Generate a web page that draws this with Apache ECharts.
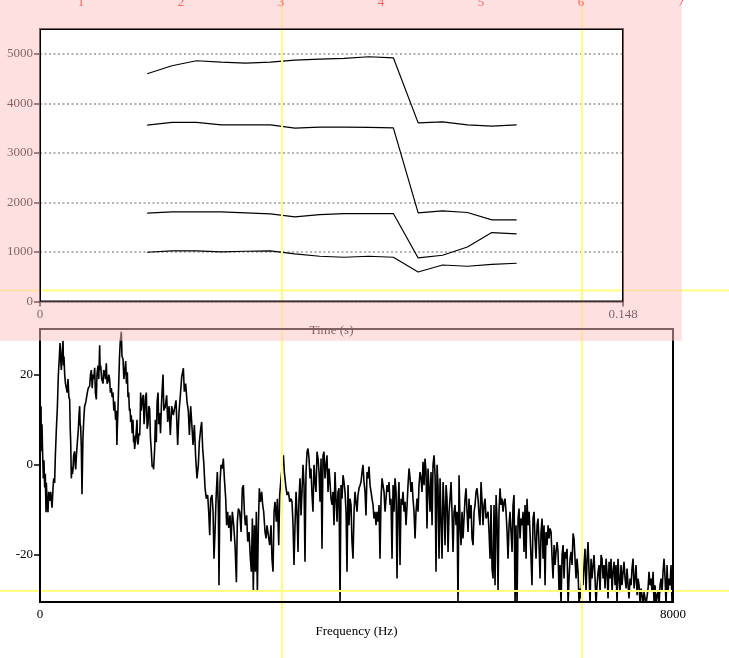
<!DOCTYPE html>
<html><head><meta charset="utf-8">
<script src="https://cdn.jsdelivr.net/npm/echarts@6/dist/echarts.min.js"></script>
<style>html,body{margin:0;padding:0;background:#fff}#c{width:729px;height:658px}</style>
</head><body><div id="c"></div>
<script>
// ---- data ----
const formantTimes = [0.0272,0.0335,0.0397,0.0460,0.0522,0.0585,0.0647,0.0710,0.0772,0.0835,0.0897,0.0960,0.1022,0.1085,0.1147,0.1210];
const formant1 = [994,1020,1020,1000,1014,1020,960,913,893,913,893,596,737,711,751,772];
const formant2 = [1782,1808,1808,1808,1788,1768,1707,1755,1775,1775,1775,879,933,1101,1392,1364];
const formant3 = [3560,3614,3614,3566,3566,3566,3499,3519,3519,3513,3503,1788,1828,1796,1646,1646];
const formant4 = [4596,4758,4859,4832,4812,4832,4873,4893,4907,4940,4919,3606,3626,3566,3539,3566];

// spectrum [Hz, dB], 0 - 3172 Hz
const spectrumLow = [[0,14],[8,4],[13,13],[17,3],[25,9],[34,2],[42,-3],[50,1],[59,-5],[67,-2],[76,-10.5],[80,-4],[92,-9],[101,-10.5],[110,-6],[122,-8],[135,-6],[152,-9.5],[165,-5],[173,-3],[185,-4],[194,2],[207,8],[219,12.5],[232,20],[245,24],[253,27],[262,23],[270,21],[280,25],[291,27.5],[297,22],[303,24],[312,20],[322,18],[333,17],[343,16],[354,19],[365,15],[375,14.5],[382,8],[388,5],[396,-3],[405,-0.5],[410,-2],[417,-1],[425,2],[438,3],[445,0],[451,-1],[460,2],[472,5],[485,8],[493,11],[501,13],[507,9],[514,8.5],[522,4],[531,-6.5],[537,0],[543,6],[553,10],[564,13],[580,14],[598,16],[610,17],[628,17.5],[638,20],[649,21],[660,17],[670,20],[680,19],[691,21.5],[700,16],[712,14.5],[720,20],[733,22],[743,19],[754,26.5],[760,21],[767,22],[780,19],[796,18],[805,21],[817,20.5],[827,19],[838,22.5],[848,18],[859,18.5],[870,20],[880,19],[890,16],[902,17],[912,15],[923,16],[933,12],[944,14],[955,10],[965,12],[972,4.4],[977,8],[985,12],[994,17.5],[1005,24],[1015,27.5],[1028,29.5],[1036,24],[1049,23.5],[1060,19],[1070,20.5],[1083,23],[1093,18],[1104,20.5],[1112,15],[1121,16],[1130,12],[1138,12.5],[1146,9.5],[1154,11],[1165,7],[1175,10],[1183,5],[1188,6.5],[1196,3.5],[1205,3.5],[1215,7],[1226,10],[1232,5],[1239,4.5],[1250,7],[1260,6.5],[1266,10],[1272,16],[1280,12],[1289,12],[1298,15],[1306,15.5],[1315,9],[1323,11],[1334,15],[1344,16],[1354,8],[1365,9],[1375,13],[1386,12.5],[1396,6],[1407,3],[1418,-0.5],[1428,0],[1436,-1],[1441,-1],[1450,4],[1458,10],[1465,6],[1470,5],[1480,14],[1492,16],[1500,9],[1513,11.5],[1523,7],[1534,13],[1545,17],[1555,20],[1565,12],[1576,13],
[1580,12.5],[1601,15.4],[1614,9.5],[1631,13],[1647,6.6],[1664,13],[1685,11],[1706,13],[1719,14.3],[1740,4.4],[1757,11.8],[1774,15.4],[1791,19.5],[1812,21.4],[1824,16.2],[1841,18],[1858,14],[1875,11.8],[1888,6.6],[1904,13],[1917,9.5],[1934,4.4],[1951,8.8],[1968,1.4],[1984,-3],[2001,0],[2014,5.1],[2031,8],[2043,9.5],[2056,3.6],[2069,0.7],[2086,-5.2],[2102,-7.5],[2119,-6.7],[2132,-10.4],[2145,-15.6],[2157,-7.5],[2174,-6.7],[2187,-10.4],[2199,-20.8],[2212,-14.9],[2225,-7.5],[2241,-1.6],[2254,-9.7],[2262,-26.7],[2275,-3.8],[2288,0],[2305,-0.8],[2317,1.4],[2330,-3],[2347,-7.5],[2359,-13.4],[2372,-10.4],[2385,-14],[2402,-11.2],[2414,-17],[2431,-10.4],[2448,-13.4],[2465,-17.8],[2482,-26],[2494,-12.6],[2507,-9.7],[2524,-10.4],[2541,-14.9],[2557,-5.2],[2570,-4.5],[2583,-10.4],[2595,-13.4],[2612,-11.2],[2625,-17],[2642,-14.9],[2659,-20.8],[2671,-23.7],[2684,-11.9],[2696,-28.2],[2709,-13.4],[2722,-23.7],[2734,-10.4],[2747,-28.2],[2760,-13.4],[2772,-5.2],[2785,-8.2],[2802,-6],[2814,-8.9],[2827,-10.4],[2844,-14.9],[2857,-16.3],[2869,-13.4],[2886,-15.6],[2903,-17.8],[2920,-13.4],[2932,-20.8],[2945,-23.7],[2958,-10.4],[2970,-8.2],[2987,-12.6],[3000,-7.5],[3017,-17.8],[3029,-6.7],[3046,-3],[3059,-0.8],[3076,2.1],[3088,-1.6],[3105,-4.5],[3122,-6.7],[3139,-6],[3156,-8.2],[3172,-7.5]];

// spectrum [Hz, dB], 3185 - 7988 Hz
const spectrumHigh = [[3185,-8.2],[3198,-13.4],[3210,-22.2],[3223,-13.4],[3236,-6],[3248,-10.4],[3261,-19.3],[3273,-7.5],[3286,-3],[3299,-11.2],[3311,-6],[3324,0],[3337,-4.5],[3349,-21.5],[3362,-1.6],[3375,2.9],[3387,3.6],[3400,1.4],[3413,-3],[3425,-0.8],[3438,-6.7],[3450,-10.4],[3463,0],[3476,-3.8],[3488,-6],[3501,2.9],[3514,1.4],[3526,-1.6],[3539,-8.2],[3552,1.4],[3564,-18.6],[3577,2.1],[3589,2.9],[3602,-3],[3615,0],[3627,2.1],[3640,-6],[3653,-0.8],[3665,-3.8],[3678,-7.5],[3691,-8.9],[3703,-6],[3716,-13.4],[3728,-1.6],[3741,-7.5],[3754,-12.6],[3766,-6],[3779,-5.2],[3792,-31],[3804,-4.5],[3817,-7.5],[3830,-2.3],[3842,-3.8],[3855,-6],[3868,-10.4],[3880,-23.7],[3893,-4.5],[3905,-13.4],[3918,-7.5],[3931,-8.9],[3943,-17.1],[3956,-20.8],[3969,-10.4],[3981,-6],[3994,-8.2],[4007,-10.4],[4019,-6.7],[4032,-5.2],[4045,-4.5],[4057,-3.8],[4070,-1.6],[4082,0],[4095,-3.8],[4108,-6],[4120,-11.2],[4133,-1.6],[4146,-3],[4158,-0.4],[4171,-4.5],[4184,-6],[4196,-7.5],[4209,-8.9],[4221,-11.9],[4234,-10.4],[4247,-13.4],[4259,-10.4],[4272,-12.6],[4285,-8.9],[4297,-20.8],[4310,-7.5],[4323,-3],[4335,-4.5],[4348,-6],[4361,-10.4],[4373,-7.5],[4386,-4.5],[4398,-6],[4411,-3.8],[4424,-8.9],[4436,-7.5],[4449,-20.8],[4462,-4.5],[4474,-10.4],[4487,-3],[4500,-6],[4512,-25.2],[4525,-8.9],[4537,-3.8],[4550,-22.2],[4563,-7.5],[4575,-8.9],[4588,-6],[4601,-10.4],[4613,-8.2],[4626,-13.4],[4639,-8.9],[4651,-4.5],[4664,-0.8],[4677,-3],[4689,-6],[4702,-3.8],[4714,-7.5],[4727,-10.4],[4740,-16.3],[4752,-10.4],[4765,-7.5],[4778,-10.4],[4790,-4.5],[4803,-1.6],[4816,-3],[4828,-6],
[4841,0.7],[4854,-4.5],[4866,1.4],[4879,-1.6],[4891,-14.1],[4904,-0.8],[4917,-5.2],[4929,-10.4],[4942,-1.6],[4955,-13.4],[4967,0],[4980,2.1],[4993,-2.3],[5005,-23.7],[5018,0],[5030,-4.5],[5043,-20.8],[5056,-3],[5068,-11.9],[5081,-20.8],[5094,-3.8],[5106,-8.9],[5119,-17.8],[5132,-4.5],[5144,-7.5],[5157,-19.3],[5170,-10.4],[5182,-7.5],[5195,-3.8],[5207,-10.4],[5220,-19.3],[5233,-10.4],[5245,-8.9],[5258,-13.4],[5271,-10.4],[5283,-31],[5296,-2.3],[5309,-13.4],[5321,-17.8],[5334,-10.4],[5346,-16.3],[5359,-11.9],[5372,-7.5],[5384,-5.2],[5397,-10.4],[5410,-14.9],[5422,-7.5],[5435,-11.9],[5448,-8.9],[5460,-16.3],[5473,-17.8],[5486,-10.4],[5498,-8.9],[5511,-6],[5523,-5.2],[5536,-7.5],[5549,-11.2],[5561,-13.4],[5574,-3.8],[5587,-8.2],[5599,-13.4],[5612,-8.9],[5625,-7.5],[5637,-11.9],[5650,-11.2],[5662,-10.4],[5675,-14.9],[5688,-20.8],[5700,-8.9],[5713,-23],[5726,-25.2],[5738,-8.9],[5751,-26.7],[5764,-6.7],[5776,-11.9],[5789,-28.2],[5801,-10.4],[5814,-5.2],[5827,-8.9],[5839,-7.5],[5852,-10.4],[5865,-8.2],[5877,-7.5],[5890,-10.4],[5903,-14.9],[5915,-20.8],[5928,-13.4],[5940,-10.4],[5953,-14.9],[5966,-19.3],[5978,-8.9],[5991,-6.7],[6004,-31],[6016,-13.4],[6029,-31],[6042,-11.9],[6054,-9.7],[6067,-16.3],[6079,-11.9],[6092,-13.4],[6105,-10.4],[6117,-19.3],[6130,-8.9],[6143,-20.8],[6155,-7.5],[6168,-13.4],[6181,-10.4],[6193,-14.9],[6206,-20.8],[6218,-26.7],[6231,-11.9],[6244,-10.4],[6256,-16.3],[6269,-20.8],[6282,-13.4],[6294,-11.9],[6307,-17.8],[6320,-25.2],[6332,-14.9],[6345,-11.9],[6358,-20.8],[6370,-13.4],[6383,-26.7],[6395,-14.9],[6408,-17.8],[6421,-13.4],[6433,-16.3],
[6446,-14.1],[6459,-14.9],[6472,-20.8],[6484,-25.2],[6497,-17.8],[6509,-22.2],[6522,-19.3],[6535,-17.1],[6547,-19.3],[6560,-28.2],[6573,-22.2],[6585,-31],[6598,-20],[6611,-17.8],[6623,-25.2],[6636,-19.3],[6648,-20.8],[6661,-18.6],[6674,-31],[6686,-25.2],[6699,-20.8],[6712,-19.3],[6724,-22.2],[6737,-15.2],[6749,-16.3],[6762,-20.8],[6775,-25.2],[6787,-20.8],[6800,-23.7],[6813,-31],[6825,-27.4],[6838,-29.6],[6851,-23.7],[6863,-26.7],[6876,-22.2],[6888,-18.6],[6901,-28.2],[6914,-20.8],[6926,-17.1],[6939,-23.7],[6952,-31],[6964,-20.8],[6977,-25.2],[6990,-22.2],[7002,-20],[7015,-25.2],[7027,-31],[7040,-26.7],[7053,-23.7],[7065,-22.2],[7078,-28.2],[7091,-20],[7103,-20.8],[7116,-25.2],[7129,-22.2],[7141,-27.4],[7154,-20.8],[7166,-23.7],[7179,-29.6],[7192,-21.5],[7204,-25.2],[7217,-20.8],[7230,-28.2],[7242,-23.7],[7255,-21.5],[7268,-26.7],[7280,-22.2],[7293,-31],[7305,-20.8],[7318,-25.2],[7331,-28.2],[7343,-22.2],[7356,-26.7],[7369,-23.7],[7381,-21.5],[7394,-25.2],[7407,-27.4],[7419,-23],[7432,-26.7],[7444,-29.6],[7457,-25.2],[7470,-26.7],[7482,-23],[7495,-20.8],[7508,-27.4],[7520,-25.2],[7533,-22.2],[7546,-28.9],[7558,-25.2],[7571,-26.7],[7584,-31],[7596,-27.4],[7609,-28.9],[7622,-31],[7634,-28.2],[7647,-29.6],[7659,-31],[7672,-31],[7685,-27.4],[7697,-23.7],[7710,-26.7],[7723,-25.2],[7735,-28.2],[7748,-23.7],[7761,-31],[7773,-26.7],[7786,-31],[7798,-28.9],[7811,-28.2],[7824,-31],[7836,-26.7],[7849,-25.2],[7862,-28.2],[7874,-23.7],[7887,-20.8],[7900,-25.2],[7912,-31],[7925,-22.2],[7937,-28.2],[7950,-25.2],[7963,-26.7],[7975,-22.2],[7988,-31]];

const hzTicks = [0,1000,2000,3000,4000,5000];
const timeTicks = [0, 0.148];
const dbTicks = [-20, 0, 20];
const freqTicks = [0, 8000];
const rulerLabels = ['1','2','3','4','5','6','7'];

// ---- chart ----
const FONT = "'Liberation Serif','Times New Roman',serif";
const G0 = {left:40, top:29, width:583, height:272.5};
const G1 = {left:40, top:329, width:633, height:273};
const zip = (xs, ys) => xs.map((x, i) => [x, ys[i]]);
const lbl = {fontFamily:FONT, fontSize:13, color:'#000'};

const chart = echarts.init(document.getElementById('c'), null, {renderer:'canvas'});

const fseries = [formant1, formant2, formant3, formant4].map(f => ({
  type:'line', xAxisIndex:0, yAxisIndex:0, data:zip(formantTimes, f),
  showSymbol:false, symbol:'none', smooth:false,
  lineStyle:{color:'#000', width:1.2}, silent:true
}));

const graphics = [];
[[282,0,282,658],[582,0,582,658],[0,290.5,729,290.5],[0,591,729,591]].forEach(l => {
  graphics.push({type:'line', shape:{x1:l[0],y1:l[1],x2:l[2],y2:l[3]}, style:{stroke:'#ffff80', lineWidth:2}, z:30, silent:true});
});
[G0, G1].forEach(g => {
  graphics.push({type:'rect', shape:{x:g.left, y:g.top, width:g.width, height:g.height}, style:{fill:'none', stroke:'#000', lineWidth:2}, z:40, silent:true});
});
rulerLabels.forEach((t, i) => {
  graphics.push({type:'text', x:81 + i*100, y:2.5, style:{text:t, fill:'#ff0000', font:"13px " + FONT, textAlign:'center', textVerticalAlign:'middle'}, z:45, silent:true});
});
const OV = 'rgba(255,193,193,0.5)';
const PW = 681.7, PH = 340.7;
[[0,0,PW,G0.top],[0,G0.top+G0.height,PW,PH-(G0.top+G0.height)],[0,G0.top,G0.left,G0.height],[G0.left+G0.width,G0.top,PW-(G0.left+G0.width),G0.height]].forEach(r => {
  graphics.push({type:'rect', shape:{x:r[0],y:r[1],width:r[2],height:r[3]}, style:{fill:OV}, z:100, silent:true});
});

chart.setOption({
  animation:false,
  backgroundColor:'#fff',
  grid:[
    Object.assign({show:true, backgroundColor:'#fff', borderWidth:0, outerBoundsMode:'none', containLabel:false}, G0),
    Object.assign({show:false, outerBoundsMode:'none', containLabel:false}, G1)
  ],
  xAxis:[
    {gridIndex:0, type:'value', min:0, max:0.148, interval:0.148,
     axisLine:{show:false}, splitLine:{show:false},
     axisTick:{show:true, length:5, customValues:timeTicks, lineStyle:{color:'#000', width:1.5}},
     axisLabel:Object.assign({margin:7, customValues:timeTicks, formatter:v => v === 0 ? '0' : '0.148', hideOverlap:false}, lbl),
     name:'Time (s)', nameLocation:'middle', nameGap:23, nameMoveOverlap:false, nameTextStyle:Object.assign({}, lbl)},
    {gridIndex:1, type:'value', min:0, max:8000, interval:8000,
     axisLine:{show:false}, splitLine:{show:false},
     axisTick:{show:true, length:5, customValues:freqTicks, lineStyle:{color:'#000', width:1.5}},
     axisLabel:Object.assign({margin:6, customValues:freqTicks, formatter:v => String(v), hideOverlap:false}, lbl),
     name:'Frequency (Hz)', nameLocation:'middle', nameGap:23, nameMoveOverlap:false, nameTextStyle:Object.assign({}, lbl)}
  ],
  yAxis:[
    {gridIndex:0, type:'value', min:0, max:5500, interval:1000,
     axisLine:{show:false},
     splitLine:{show:true, lineStyle:{color:'#999', width:1.5, type:[2,2.5]}},
     axisTick:{show:true, length:6, customValues:hzTicks, lineStyle:{color:'#000', width:1.5}},
     axisLabel:Object.assign({margin:7, customValues:hzTicks, formatter:v => String(v), hideOverlap:false}, lbl)},
    {gridIndex:1, type:'value', min:-30.4, max:30.1,
     axisLine:{show:false}, splitLine:{show:false},
     axisTick:{show:true, length:6, customValues:dbTicks, lineStyle:{color:'#000', width:1.5}},
     axisLabel:Object.assign({margin:7, customValues:dbTicks, formatter:v => String(v), hideOverlap:false}, lbl)}
  ],
  series: fseries.concat([{
    type:'line', xAxisIndex:1, yAxisIndex:1, data:spectrumLow.concat(spectrumHigh),
    showSymbol:false, symbol:'none', clip:true,
    lineStyle:{color:'#000', width:1.6}, silent:true
  }]),
  graphic: graphics
});
</script></body></html>
